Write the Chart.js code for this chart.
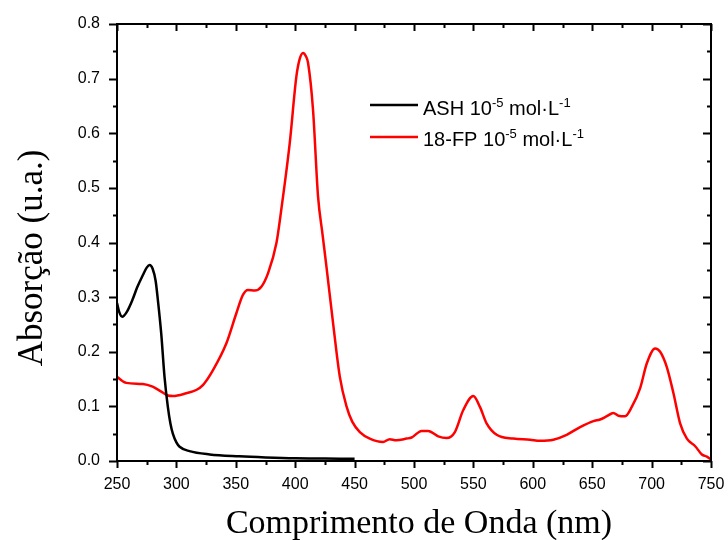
<!DOCTYPE html>
<html>
<head>
<meta charset="utf-8">
<script src="https://cdn.jsdelivr.net/npm/chart.js@4.4.0/dist/chart.umd.min.js"></script>
<style>
  html, body { margin: 0; padding: 0; background: #fff; }
  #wrap { width: 728px; height: 540px; }
</style>
</head>
<body>
<div id="wrap"><canvas id="chart" width="728" height="540"></canvas></div>
<script>
// ASH 10^-5 mol/L (black)
const ashWavelength = [250, 252, 254.4, 258, 263, 267, 271.7, 275, 277.5, 280, 282.5, 284.4, 287.2, 290, 292.8, 295, 297, 300, 302.7, 311, 328, 353, 375, 400, 425, 450];
const ashAbsorbance = [0.289, 0.272, 0.264, 0.272, 0.295, 0.318, 0.340, 0.354, 0.359, 0.352, 0.330, 0.295, 0.234, 0.154, 0.099, 0.068, 0.050, 0.034, 0.026, 0.018, 0.012, 0.0086, 0.0066, 0.005, 0.0045, 0.004];

// 18-FP 10^-5 mol/L (red)
const fpWavelength = [250, 257.8, 271.7, 280, 287.2, 292.8, 297, 308.3, 316.7, 322.3, 330.7, 342, 350.4, 356, 360.2, 365.9, 371.5, 377, 384.2, 388.4, 395.4, 401, 403.8, 406.6, 409, 410.8, 415, 419.2, 423, 426.3, 431.9, 437.5, 443.2, 448, 454.4, 462.8, 474, 479.6, 485, 493.7, 498, 506.4, 512, 520.4, 527.4, 534.4, 541.4, 549.9, 555.5, 561.1, 569.6, 583.6, 597.6, 606, 617.3, 628.5, 639.8, 651, 656.6, 662.3, 667.8, 672, 677.7, 683.3, 690.3, 696, 703, 707.2, 712.8, 718.4, 724, 729.7, 736.7, 742.3, 746.5, 750];
const fpAbsorbance = [0.154, 0.143, 0.141, 0.136, 0.127, 0.120, 0.119, 0.124, 0.130, 0.139, 0.166, 0.215, 0.270, 0.304, 0.313, 0.312, 0.319, 0.343, 0.399, 0.462, 0.582, 0.704, 0.736, 0.747, 0.741, 0.729, 0.643, 0.485, 0.415, 0.356, 0.252, 0.155, 0.100, 0.072, 0.053, 0.041, 0.035, 0.040, 0.038, 0.041, 0.043, 0.055, 0.055, 0.045, 0.042, 0.053, 0.093, 0.119, 0.099, 0.069, 0.048, 0.041, 0.039, 0.037, 0.039, 0.048, 0.062, 0.073, 0.076, 0.082, 0.088, 0.083, 0.082, 0.099, 0.133, 0.179, 0.206, 0.200, 0.172, 0.124, 0.069, 0.041, 0.027, 0.012, 0.008, 0.003];

const xTicks = [250, 300, 350, 400, 450, 500, 550, 600, 650, 700, 750];
const yTicks = [0, 0.1, 0.2, 0.3, 0.4, 0.5, 0.6, 0.7, 0.8];

const legendNames = ['ASH', '18-FP'];
const xTitle = 'Comprimento de Onda (nm)';
const yTitle = 'Absorção (u.a.)';

function toPoints(xs, ys) {
    return xs.map((x, i) => ({ x: x, y: ys[i] }));
}

// frame + ticks on all four sides (inward on top/right, outward on bottom/left)
const framePlugin = {
    id: 'frame',
    afterDatasetsDraw(chart) {
        const { ctx, chartArea: a, scales } = chart;
        const xs = scales.x, ys = scales.y;
        ctx.save();
        ctx.strokeStyle = '#000';
        ctx.lineWidth = 2;
        ctx.strokeRect(a.left, a.top, a.right - a.left, a.bottom - a.top);

        ctx.beginPath();
        xTicks.forEach((v, i) => {
            const px = Math.round(xs.getPixelForValue(v)) + 0.5;
            ctx.moveTo(px, a.bottom); ctx.lineTo(px, a.bottom + 7);
            ctx.moveTo(px, a.top); ctx.lineTo(px, a.top + 7);
            if (i < xTicks.length - 1) {
                const mx = Math.round(xs.getPixelForValue((v + xTicks[i + 1]) / 2)) + 0.5;
                ctx.moveTo(mx, a.bottom); ctx.lineTo(mx, a.bottom + 4);
                ctx.moveTo(mx, a.top); ctx.lineTo(mx, a.top + 4);
            }
        });
        yTicks.forEach((v, i) => {
            const py = Math.round(ys.getPixelForValue(v)) + 0.5;
            ctx.moveTo(a.left - 8, py); ctx.lineTo(a.left, py);
            ctx.moveTo(a.right - 8, py); ctx.lineTo(a.right, py);
            if (i < yTicks.length - 1) {
                const my = Math.round(ys.getPixelForValue((v + yTicks[i + 1]) / 2)) + 0.5;
                ctx.moveTo(a.left - 4, my); ctx.lineTo(a.left, my);
                ctx.moveTo(a.right - 4, my); ctx.lineTo(a.right, my);
            }
        });
        ctx.stroke();
        ctx.restore();
    }
};

// axis titles (serif, like the original)
const titlePlugin = {
    id: 'titles',
    afterDraw(chart) {
        const { ctx } = chart;
        ctx.save();
        ctx.fillStyle = '#000';
        ctx.font = '34px "Liberation Serif", "Times New Roman", serif';
        ctx.textAlign = 'center';
        ctx.textBaseline = 'alphabetic';
        ctx.fillText(xTitle, 419, 533);
        ctx.translate(42, 258);
        ctx.rotate(-Math.PI / 2);
        ctx.font = '35px "Liberation Serif", "Times New Roman", serif';
        ctx.fillText(yTitle, 0, 0);
        ctx.restore();
    }
};

// legend with superscripts: "NAME 10^-5 mol·L^-1"
const legendPlugin = {
    id: 'supLegend',
    afterDraw(chart) {
        const { ctx } = chart;
        const rows = [{ y: 105, base: 115 }, { y: 137, base: 146 }];
        ctx.save();
        chart.data.datasets.forEach((ds, i) => {
            const r = rows[i];
            ctx.strokeStyle = ds.borderColor;
            ctx.lineWidth = 2.5;
            ctx.beginPath();
            ctx.moveTo(370, r.y); ctx.lineTo(418, r.y);
            ctx.stroke();

            ctx.fillStyle = '#000';
            ctx.textAlign = 'left';
            ctx.textBaseline = 'alphabetic';
            const big = '20px "Liberation Sans", Arial, sans-serif';
            const small = '13px "Liberation Sans", Arial, sans-serif';
            let x = 423;
            const parts = [
                [legendNames[i] + ' 10', big, 0],
                ['-5', small, -8],
                [' mol\u00b7L', big, 0],
                ['-1', small, -8]
            ];
            parts.forEach(p => {
                ctx.font = p[1];
                ctx.fillText(p[0], x, r.base + p[2]);
                x += ctx.measureText(p[0]).width;
            });
        });
        ctx.restore();
    }
};

const ctx = document.getElementById('chart').getContext('2d');
new Chart(ctx, {
    type: 'line',
    data: {
        datasets: [
            {
                label: 'ASH',
                data: toPoints(ashWavelength, ashAbsorbance),
                borderColor: '#000000',
                borderWidth: 2.5,
                pointRadius: 0,
                cubicInterpolationMode: 'monotone',
                fill: false
            },
            {
                label: '18-FP',
                data: toPoints(fpWavelength, fpAbsorbance),
                borderColor: '#ff0000',
                borderWidth: 2.5,
                pointRadius: 0,
                cubicInterpolationMode: 'monotone',
                fill: false
            }
        ]
    },
    options: {
        responsive: false,
        animation: false,
        devicePixelRatio: 1,
        layout: { padding: { top: 24, right: 17, left: 0, bottom: 0 } },
        plugins: {
            legend: { display: false },
            tooltip: { enabled: false }
        },
        scales: {
            x: {
                type: 'linear',
                position: 'bottom',
                min: 250,
                max: 750,
                afterBuildTicks: scale => { scale.ticks = xTicks.map(v => ({ value: v })); },
                afterFit: scale => {
                    scale.height = 79;
                    scale.paddingLeft = 0;
                    scale.paddingRight = 0;
                },
                grid: { display: false, drawTicks: false },
                border: { display: false },
                ticks: {
                    color: '#000',
                    padding: 14,
                    maxRotation: 0,
                    autoSkip: false,
                    font: { family: '"Liberation Sans", Arial, sans-serif', size: 16 }
                }
            },
            y: {
                type: 'linear',
                position: 'left',
                min: 0,
                max: 0.8,
                afterBuildTicks: scale => { scale.ticks = yTicks.map(v => ({ value: v })); },
                afterFit: scale => {
                    scale.width = 117;
                    scale.paddingTop = 0;
                    scale.paddingBottom = 0;
                },
                grid: { display: false, drawTicks: false },
                border: { display: false },
                ticks: {
                    color: '#000',
                    padding: 17,
                    autoSkip: false,
                    callback: v => v.toFixed(1),
                    font: { family: '"Liberation Sans", Arial, sans-serif', size: 16 }
                }
            }
        }
    },
    plugins: [framePlugin, titlePlugin, legendPlugin]
});
</script>
</body>
</html>
